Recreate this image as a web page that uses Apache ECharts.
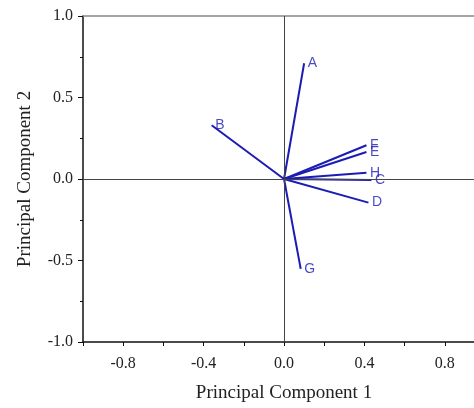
<!DOCTYPE html>
<html>
<head>
<meta charset="utf-8">
<script src="https://cdn.jsdelivr.net/npm/echarts@6/dist/echarts.min.js"></script>
<style>
html,body{margin:0;padding:0;background:#fff;}
#c{width:474px;height:408px;}
</style>
</head>
<body>
<div id="c"></div>
<script>
const names = ['A', 'B', 'C', 'D', 'E', 'F', 'G', 'H'];
const pc1 = [0.10, -0.36, 0.435, 0.42, 0.41, 0.41, 0.083, 0.41];
const pc2 = [0.71, 0.33, -0.006, -0.145, 0.166, 0.207, -0.551, 0.039];
const xLabels = ['-0.8', '-0.4', '0.0', '0.4', '0.8'];
const yLabels = ['-1.0', '-0.5', '0.0', '0.5', '1.0'];
const xTitle = 'Principal Component 1';
const yTitle = 'Principal Component 2';

const blue = '#1c1cb4';
const serif = '"Liberation Serif", "DejaVu Serif", serif';
const series = [];
names.forEach((n, i) => {
  series.push({
    type: 'line',
    data: [[0, 0], [pc1[i], pc2[i]]],
    showSymbol: false,
    symbol: 'none',
    lineStyle: { color: blue, width: 2 },
    silent: true,
    animation: false
  });
});
series.push({
  type: 'scatter',
  data: names.map((n, i) => ({ value: [pc1[i], pc2[i]], name: n })),
  symbolSize: 1,
  itemStyle: { color: 'rgba(0,0,0,0)' },
  label: {
    show: true,
    position: 'right',
    distance: 3,
    offset: [0, -4],
    formatter: p => p.name,
    color: '#1a1ab4',
    fontFamily: '"Liberation Sans", Arial, sans-serif',
    fontSize: 14
  },
  labelLayout: { hideOverlap: false },
  silent: true,
  animation: false,
  markLine: {
    silent: true,
    symbol: 'none',
    label: { show: false },
    lineStyle: { color: '#444', width: 1, type: 'solid' },
    data: [{ xAxis: 0 }, { yAxis: 0 }],
    animation: false
  }
});

const chart = echarts.init(document.getElementById('c'), null, { renderer: 'canvas' });
chart.setOption({
  animation: false,
  backgroundColor: '#fff',
  grid: { left: 83, top: 16, bottom: 66, right: 0, outerBoundsMode: 'none', containLabel: false },
  xAxis: [{
    type: 'value', min: -1, max: 0.945, interval: 0.2,
    position: 'bottom',
    name: xTitle, nameLocation: 'middle', nameGap: 42,
    nameTextStyle: { fontFamily: serif, fontSize: 19, color: '#222', padding: [0, 0, 0, 11] },
    axisLine: { show: true, onZero: false, lineStyle: { color: '#111', width: 1.5 } },
    axisTick: { show: true, length: 4, lineStyle: { color: '#111' } },
    axisLabel: {
      margin: 14, fontFamily: serif, fontSize: 16, color: '#222',
      formatter: v => { const s = v.toFixed(1); return xLabels.includes(s) && Math.abs(v * 10 - Math.round(v * 10)) < 1e-6 ? s : ''; }
    },
    splitLine: { show: false }
  }, {
    type: 'value', min: -1, max: 0.945, position: 'top',
    axisLine: { show: true, onZero: false, lineStyle: { color: '#888', width: 1.5 } },
    axisTick: { show: false }, axisLabel: { show: false }, splitLine: { show: false }
  }],
  yAxis: {
    type: 'value', min: -1, max: 1, interval: 0.5,
    name: yTitle, nameLocation: 'middle', nameGap: 48,
    nameTextStyle: { fontFamily: serif, fontSize: 19, color: '#222' },
    axisLine: { show: true, onZero: false, lineStyle: { color: '#111', width: 1.5 } },
    axisTick: { show: true, length: 5, lineStyle: { color: '#111' } },
    minorTick: { show: true, splitNumber: 2, length: 3, lineStyle: { color: '#111' } },
    axisLabel: {
      margin: 10, fontFamily: serif, fontSize: 16, color: '#222',
      formatter: v => { const s = v.toFixed(1); return yLabels.includes(s) ? s : ''; }
    },
    splitLine: { show: false }
  },
  series: series
});
</script>
</body>
</html>
